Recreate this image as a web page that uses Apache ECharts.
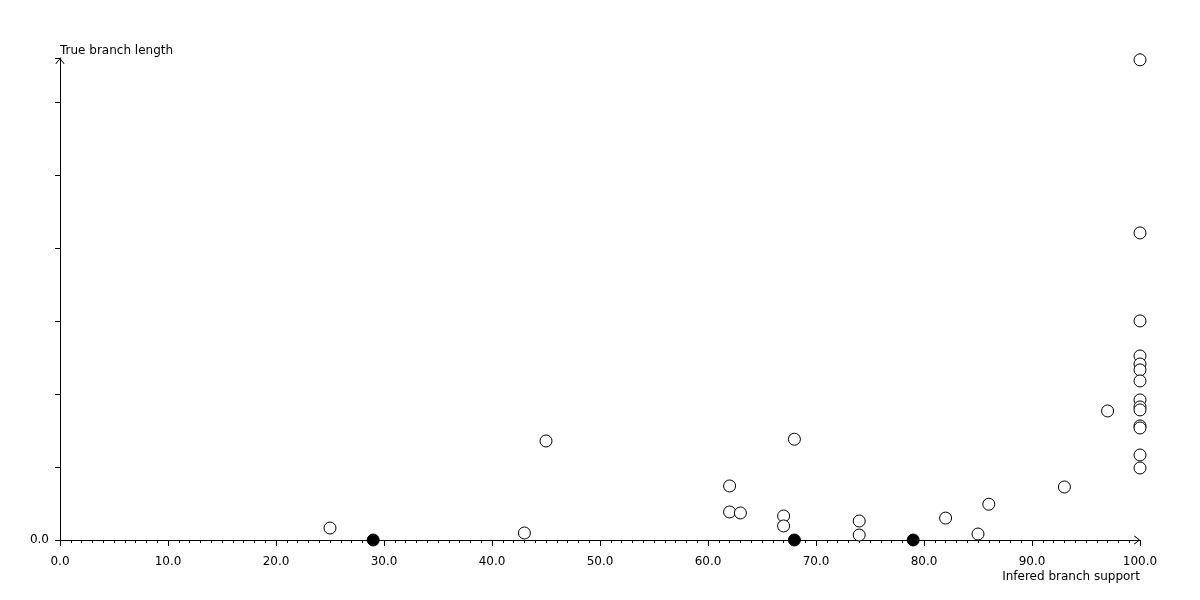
<!DOCTYPE html>
<html>
<head>
<meta charset="utf-8">
<script src="https://cdn.jsdelivr.net/npm/echarts@6/dist/echarts.min.js"></script>
<style>html,body{margin:0;padding:0;background:#fff}#c{width:1200px;height:600px}</style>
</head>
<body>
<div id="c"></div>
<script>
// Open-circle points: [support, true length]
const openX = [25, 43, 45, 62, 62, 63, 67, 67, 68, 74, 74, 82, 85, 86, 93, 97,
  100, 100, 100, 100, 100, 100, 100, 100, 100, 100, 100, 100, 100, 100];
const openY = [0.0164, 0.0096, 0.1356, 0.074, 0.0384, 0.037, 0.0329, 0.0192, 0.138, 0.026, 0.0068, 0.030, 0.0082, 0.049, 0.0726, 0.1767,
  0.6575, 0.4205, 0.300, 0.252, 0.241, 0.2329, 0.2178, 0.1918, 0.1822, 0.1781, 0.1562, 0.1534, 0.1164, 0.0986];
// Filled points (zero true length)
const filledX = [29, 68, 79];
const filledY = [0, 0, 0];

const xAxisName = 'Infered branch support';
const yAxisName = 'True branch length';

const chevron = 'path://M0,6 L5,0 L10,6 L9.2,6.6 L5,1.4 L0.8,6.6 Z';
const font = 'DejaVu Sans';

const chart = echarts.init(document.getElementById('c'), null, {renderer: 'canvas'});
chart.setOption({
  backgroundColor: '#fff',
  animation: false,
  grid: {left: 60, right: 60, top: 58, bottom: 60},
  xAxis: {
    type: 'value', min: 0, max: 100, interval: 10,
    name: xAxisName, nameLocation: 'end', nameGap: 0,
    nameTextStyle: {fontFamily: font, fontSize: 12, color: '#000', align: 'right', verticalAlign: 'top', padding: [31, 0, 0, 0]},
    axisLine: {show: true, lineStyle: {color: '#000', width: 1}, symbol: ['none', chevron], symbolSize: [10, 6], symbolOffset: [0, -3]},
    axisTick: {show: true, length: 6, lineStyle: {color: '#000'}},
    minorTick: {show: true, splitNumber: 10, length: 3, lineStyle: {color: '#000'}},
    splitLine: {show: false},
    axisLabel: {fontFamily: font, fontSize: 12, color: '#000', margin: 16, formatter: v => v.toFixed(1)}
  },
  yAxis: {
    type: 'value', min: 0, max: 0.66, interval: 0.1,
    name: yAxisName, nameLocation: 'end', nameGap: 7,
    nameTextStyle: {fontFamily: font, fontSize: 12, color: '#000', align: 'left', verticalAlign: 'middle'},
    axisLine: {show: true, lineStyle: {color: '#000', width: 1}, symbol: ['none', chevron], symbolSize: [10, 6], symbolOffset: [0, -3]},
    axisTick: {show: true, length: 5, lineStyle: {color: '#000'}},
    splitLine: {show: false},
    axisLabel: {fontFamily: font, fontSize: 12, color: '#000', margin: 11, padding: [3, 0, 0, 0], formatter: v => (v === 0 ? '0.0' : '')}
  },
  series: [
    {
      type: 'scatter', symbol: 'circle', symbolSize: 12,
      data: openX.map((x, i) => [x, openY[i]]),
      itemStyle: {color: '#fff', borderColor: '#000', borderWidth: 1, opacity: 1},
      emphasis: {disabled: true}
    },
    {
      type: 'scatter', symbol: 'circle', symbolSize: 12,
      data: filledX.map((x, i) => [x, filledY[i]]),
      itemStyle: {color: '#000', borderColor: '#000', borderWidth: 1, opacity: 1},
      emphasis: {disabled: true}
    }
  ]
});
</script>
</body>
</html>
